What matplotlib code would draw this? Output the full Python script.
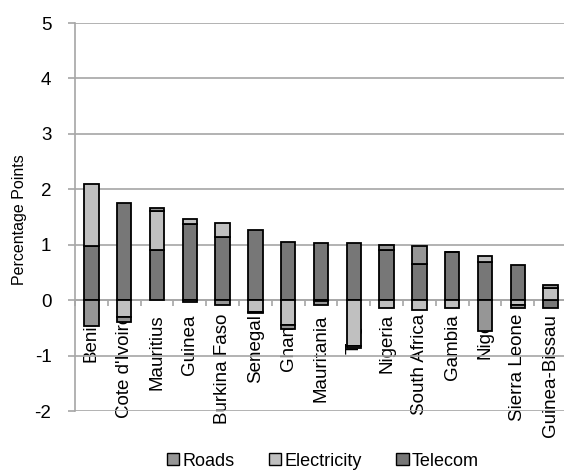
import matplotlib
matplotlib.use("Agg")
import matplotlib.pyplot as plt
from matplotlib.patches import Patch
import numpy as np

plt.rcParams['font.family'] = ['Liberation Sans', 'DejaVu Sans']
plt.rcParams['axes.unicode_minus'] = False

# contributions to growth, percentage points
countries = ['Benin', "Cote d'Ivoire", 'Mauritius', 'Guinea', 'Burkina Faso', 'Senegal',
             'Ghana', 'Mauritania', 'Togo', 'Nigeria', 'South Africa', 'Gambia',
             'Niger', 'Sierra Leone', 'Guinea-Bissau']
telecom = [0.97, 1.76, 0.90, 1.38, 1.14, 1.27, 1.05, 1.03, 1.03, 0.90, 0.65, 0.86, 0.69, 0.63, -0.15]
electricity = [1.13, -0.31, 0.71, 0.09, 0.26, -0.22, -0.45, -0.02, -0.82, -0.14, -0.18, -0.14, 0.11, -0.08, 0.22]
roads = [-0.46, -0.09, 0.05, -0.03, -0.09, -0.02, -0.07, -0.06, -0.05, 0.10, 0.33, 0.0, -0.55, -0.06, 0.05]

col_roads = '#969696'
col_elec = '#c0c0c0'
col_tel = '#777777'
grid_col = '#a6a6a6'

fig = plt.figure(figsize=(5.64, 4.73), dpi=100)
ax = fig.add_axes([75 / 564, 1 - 411 / 473, 492 / 564, 388 / 473])

x = np.arange(len(countries))
pos = np.zeros(len(countries))
neg = np.zeros(len(countries))
# stack positives up and negatives down, telecom nearest the axis
for vals, col in [(telecom, col_tel), (electricity, col_elec), (roads, col_roads)]:
    v = np.array(vals)
    bottom = np.where(v >= 0, pos, neg)
    ax.bar(x, v, bottom=bottom, width=0.44, color=col, edgecolor='black',
           linewidth=1.3, zorder=3)
    pos = pos + np.where(v >= 0, v, 0)
    neg = neg + np.where(v < 0, v, 0)

ax.set_xlim(-0.5, len(countries) - 0.5)
ax.set_ylim(-2, 5)
ax.set_yticks(range(-2, 6))
ax.yaxis.grid(True, color=grid_col, linewidth=1.2)

for s in ['top', 'right']:
    ax.spines[s].set_visible(False)
ax.spines['left'].set_color(grid_col)
ax.spines['left'].set_linewidth(1.2)
ax.spines['bottom'].set_position(('data', 0))
ax.spines['bottom'].set_color(grid_col)
ax.spines['bottom'].set_linewidth(1.2)

ax.set_xticks(x)
ax.set_xticklabels(countries, rotation=90, fontsize=13.5)
ax.set_xticks(np.arange(-0.5, len(countries)), minor=True)
ax.tick_params(axis='x', which='major', length=0, pad=10)
ax.tick_params(axis='x', which='minor', length=4, color=grid_col, width=1.2)
ax.tick_params(axis='y', length=5, color=grid_col, width=1.2, labelsize=13.5, pad=12)

fig.text(20 / 564, 1 - 220 / 473, 'Percentage Points', rotation=90,
         ha='center', va='center', fontsize=11.5)

handles = [Patch(facecolor=col_roads, edgecolor='black', label='Roads'),
           Patch(facecolor=col_elec, edgecolor='black', label='Electricity'),
           Patch(facecolor=col_tel, edgecolor='black', label='Telecom')]
fig.legend(handles=handles, loc='center', bbox_to_anchor=(323 / 564, 1 - 461 / 473),
           ncol=3, frameon=False, fontsize=13, handlelength=0.67, handleheight=0.67,
           handletextpad=0.2, columnspacing=1.9, borderaxespad=0)

fig.savefig('out.png', dpi=100)
